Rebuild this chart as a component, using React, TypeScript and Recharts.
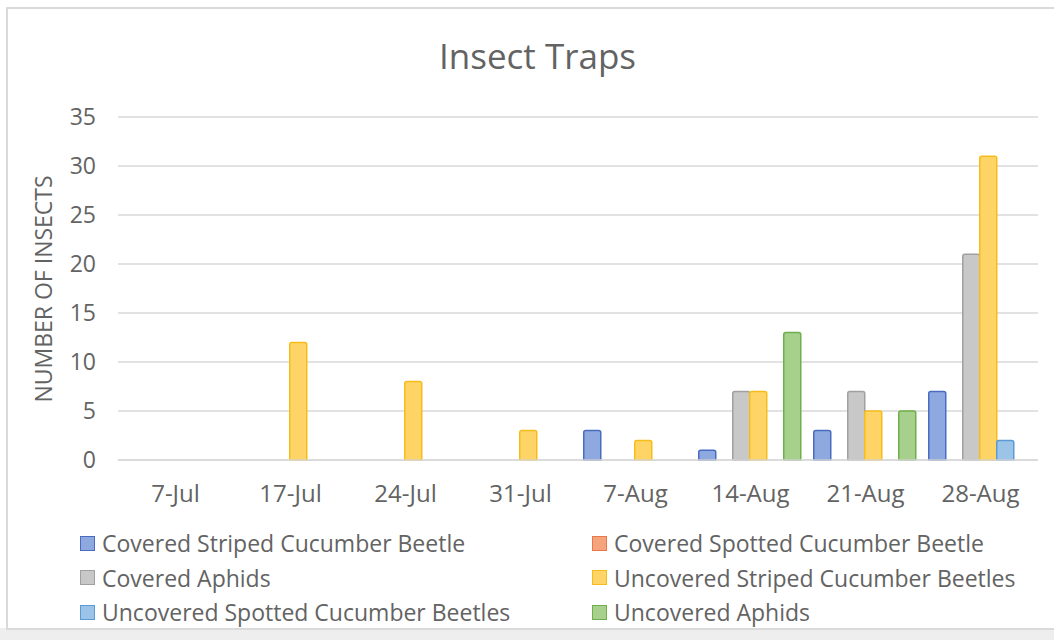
import React from 'react';
import { BarChart, Bar, XAxis, YAxis, CartesianGrid, Legend } from 'recharts';

const categories = ['7-Jul', '17-Jul', '24-Jul', '31-Jul', '7-Aug', '14-Aug', '21-Aug', '28-Aug'];
const coveredStriped = [0, 0, 0, 0, 3, 1, 3, 7];
const coveredSpotted = [0, 0, 0, 0, 0, 0, 0, 0];
const coveredAphids = [0, 0, 0, 0, 0, 7, 7, 21];
const uncoveredStriped = [0, 12, 8, 3, 2, 7, 5, 31];
const uncoveredSpotted = [0, 0, 0, 0, 0, 0, 0, 2];
const uncoveredAphids = [0, 0, 0, 0, 0, 13, 5, 0];
const yTicks = [0, 5, 10, 15, 20, 25, 30, 35];

const seriesNames = [
  'Covered Striped Cucumber Beetle',
  'Covered Spotted Cucumber Beetle',
  'Covered Aphids',
  'Uncovered Striped Cucumber Beetles',
  'Uncovered Spotted Cucumber Beetles',
  'Uncovered Aphids',
];
const seriesKeys = ['cs', 'csp', 'ca', 'us', 'usp', 'ua'];
const seriesValues = [coveredStriped, coveredSpotted, coveredAphids, uncoveredStriped, uncoveredSpotted, uncoveredAphids];
const fills = ['#8ea9e0', '#f5a47c', '#c8c8c8', '#ffd466', '#9cc3e8', '#a6d08c'];
const strokes = ['#4a6cc0', '#e8784a', '#a0a0a0', '#f6bd1a', '#5b9bd5', '#6fae4a'];

const data = categories.map((c, i) => {
  const row: Record<string, any> = { name: c };
  seriesKeys.forEach((k, s) => {
    row[k] = seriesValues[s][i];
  });
  return row;
});

const FONT = '"Open Sans", sans-serif';
const TXT = '#636363';

const legendOrder = [
  [0, 1],
  [2, 3],
  [4, 5],
];

const LegendContent = () => (
  <div style={{ fontFamily: FONT, fontSize: 23, color: TXT, width: 1054, position: 'relative' }}>
    {legendOrder.map((pair, r) => (
      <div key={r} style={{ position: 'relative', height: 34.5 }}>
        {pair.map((s, c) => (
          <div
            key={s}
            style={{
              position: 'absolute',
              left: c === 0 ? 80 : 592,
              top: 0,
              height: 34.5,
              lineHeight: '34.5px',
              whiteSpace: 'nowrap',
              display: 'flex',
              alignItems: 'center',
            }}
          >
            <span
              style={{
                display: 'inline-block',
                width: 13,
                height: 13,
                background: fills[s],
                border: `1.5px solid ${strokes[s]}`,
                marginRight: 7,
              }}
            />
            <span>{seriesNames[s]}</span>
          </div>
        ))}
      </div>
    ))}
  </div>
);

export default function App() {
  return (
    <div style={{ position: 'absolute', left: 0, top: 0, width: 1054, height: 640, background: '#ffffff', overflow: 'hidden' }}>
      <div style={{ position: 'absolute', left: 0, top: 628, width: 1054, height: 12, background: '#eeeeee' }} />
      <div
        style={{
          position: 'absolute',
          left: 6,
          top: 7,
          width: 1060,
          height: 619,
          border: '2px solid #dadada',
          background: '#ffffff',
        }}
      />
      <div style={{ position: 'absolute', left: 0, top: 0 }}>
        <BarChart
          width={1054}
          height={640}
          data={data}
          margin={{ top: 117, right: 16, bottom: 147, left: 0 }}
          barCategoryGap="5%"
          barGap={0}
        >
          <CartesianGrid vertical={false} stroke="#d9d9d9" strokeWidth={1.5} />
          <XAxis
            dataKey="name"
            height={33}
            axisLine={{ stroke: '#d9d9d9', strokeWidth: 1.5 }}
            tickLine={false}
            tickSize={0}
            tickMargin={25}
            interval={0}
            tick={{ fill: TXT, fontSize: 24, fontFamily: FONT }}
          />
          <YAxis
            width={118}
            domain={[0, 35]}
            ticks={yTicks}
            axisLine={false}
            tickLine={false}
            tickSize={0}
            tickMargin={22}
            tick={{ fill: TXT, fontSize: 23, fontFamily: FONT }}
          />
          <Legend
            layout="horizontal"
            verticalAlign="middle"
            align="center"
            wrapperStyle={{ left: 0, top: 526, width: 1054 }}
            content={() => <LegendContent />}
          />
          {seriesKeys.map((k, s) => (
            <Bar
              key={k}
              dataKey={k}
              name={seriesNames[s]}
              fill={fills[s]}
              stroke={strokes[s]}
              strokeWidth={1.5}
              radius={[2, 2, 0, 0]}
              isAnimationActive={false}
            />
          ))}
        </BarChart>
      </div>
      <svg width={1054} height={640} style={{ position: 'absolute', left: 0, top: 0, pointerEvents: 'none' }}>
        <text x={537.5} y={69} textAnchor="middle" fontFamily={FONT} fontSize={35} fill={TXT}>
          Insect Traps
        </text>
        <text
          x={44}
          y={289}
          dy="0.36em"
          textAnchor="middle"
          fontFamily={FONT}
          fontSize={23}
          fill={TXT}
          transform="rotate(-90 44 289)"
        >
          NUMBER OF INSECTS
        </text>
      </svg>
    </div>
  );
}
